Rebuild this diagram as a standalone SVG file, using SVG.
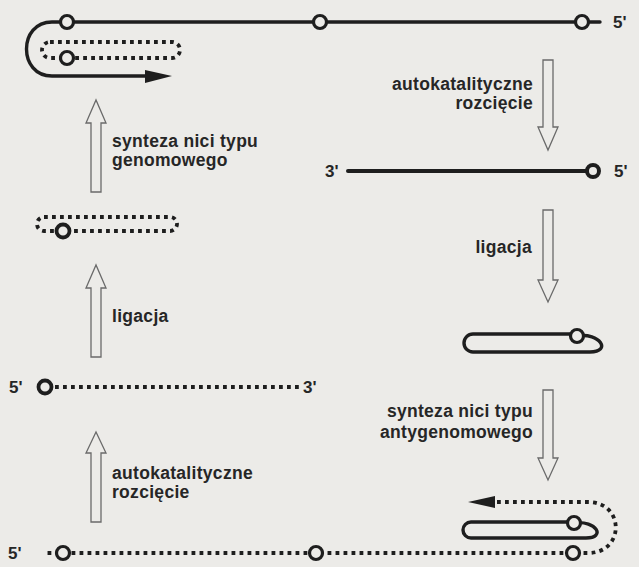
<svg xmlns="http://www.w3.org/2000/svg" width="639" height="567" viewBox="0 0 639 567">
<defs>
<style>
.bg{fill:#ecebe8}
.s{fill:none;stroke:#1e1e1e;stroke-width:3.4;stroke-linecap:round;stroke-linejoin:round}
.d{fill:none;stroke:#1e1e1e;stroke-width:3.8;stroke-dasharray:3.8 4.2}
.c{fill:#ecebe8;stroke:#1e1e1e;stroke-width:3.2}
.ah{fill:#1e1e1e}
.ha{fill:none;stroke:#6a6a6a;stroke-width:1.3;stroke-linejoin:miter}
.t{font-family:"Liberation Sans",Arial,sans-serif;font-weight:bold;font-size:17.5px;letter-spacing:0.3px;fill:#262626}
.e{font-family:"Liberation Sans",Arial,sans-serif;font-weight:bold;font-size:17px;fill:#262626}
.r{text-anchor:end}
</style>
</defs>
<rect class="bg" x="0" y="0" width="639" height="567"/>

<g id="connectors">
  <g id="arrow-right-1">
    <path class="ha" d="M543,60 V127 H538 L548,150 L558,127 H553 V60 Z"/>
    <text class="t r" x="533" y="90">autokatalityczne</text>
    <text class="t r" x="533" y="109">rozcięcie</text>
  </g>
  <g id="arrow-right-2">
    <path class="ha" d="M543,210 V280 H538 L548,302 L558,280 H553 V210 Z"/>
    <text class="t r" x="532" y="253">ligacja</text>
  </g>
  <g id="arrow-right-3">
    <path class="ha" d="M543,390 V458 H538 L548,480 L558,458 H553 V390 Z"/>
    <text class="t r" x="533" y="417">synteza nici typu</text>
    <text class="t r" x="533" y="438">antygenomowego</text>
  </g>
  <g id="arrow-left-3">
    <path class="ha" d="M91,522 V453 H86 L96,432 L106,453 H101 V522 Z"/>
    <text class="t" x="112" y="479">autokatalityczne</text>
    <text class="t" x="112" y="498">rozcięcie</text>
  </g>
  <g id="arrow-left-2">
    <path class="ha" d="M91,357 V288 H86 L96,265 L106,288 H101 V357 Z"/>
    <text class="t" x="112" y="322">ligacja</text>
  </g>
  <g id="arrow-left-1">
    <path class="ha" d="M91,192 V123 H86 L96,100 L106,123 H101 V192 Z"/>
    <text class="t" x="112" y="147">synteza nici typu</text>
    <text class="t" x="112" y="166">genomowego</text>
  </g>
</g>

<g id="node-top">
  <path class="s" d="M600,22 H67 H52 C18,22 18,76 52,76 H150"/>
  <polygon class="ah" points="145,70 172,76 145,83"/>
  <rect class="d" x="42" y="42" width="138" height="16" rx="8"/>
  <circle class="c" cx="67" cy="58" r="6.5"/>
  <circle class="c" cx="67" cy="22" r="6.5"/>
  <circle class="c" cx="320" cy="22" r="6.5"/>
  <circle class="c" cx="582" cy="22" r="6.5"/>
  <text class="e" x="613" y="28">5'</text>
</g>

<g id="node-linear-solid">
  <text class="e" x="325" y="177">3'</text>
  <path class="s" d="M348,171 H592" style="stroke-width:4"/>
  <circle class="c" cx="593" cy="171" r="6" style="stroke-width:4"/>
  <text class="e" x="614" y="177">5'</text>
</g>

<g id="node-hairpin-1">
  <path class="s" d="M577,336 C600,332 612,352 590,352 H473 A9,9 0 0 1 473,334 H571"/>
  <circle class="c" cx="577" cy="336" r="6.5"/>
</g>

<g id="node-bottom">
  <path class="s" d="M574,523 C597,520 606,538 586,538 H471 A8,8 0 0 1 471,522 H568"/>
  <circle class="c" cx="574" cy="523" r="6.5"/>
  <path class="d" d="M497,502 H588 C625,502 625,553 588,553 H46"/>
  <polygon class="ah" points="495,496 468,502 495,508"/>
  <circle class="c" cx="573" cy="553" r="6.5"/>
  <circle class="c" cx="316" cy="553" r="6.5"/>
  <circle class="c" cx="63" cy="553" r="6.5"/>
  <text class="e" x="8" y="559">5'</text>
</g>

<g id="node-linear-dotted">
  <text class="e" x="9" y="393">5'</text>
  <path class="d" d="M55,387 H300"/>
  <circle class="c" cx="45" cy="387" r="6.5" style="stroke-width:3.8"/>
  <text class="e" x="303" y="393">3'</text>
</g>

<g id="node-circle-dotted">
  <rect class="d" x="37" y="217" width="140" height="14" rx="7"/>
  <circle class="c" cx="63" cy="231" r="6.5" style="stroke-width:3.8"/>
</g>
</svg>
